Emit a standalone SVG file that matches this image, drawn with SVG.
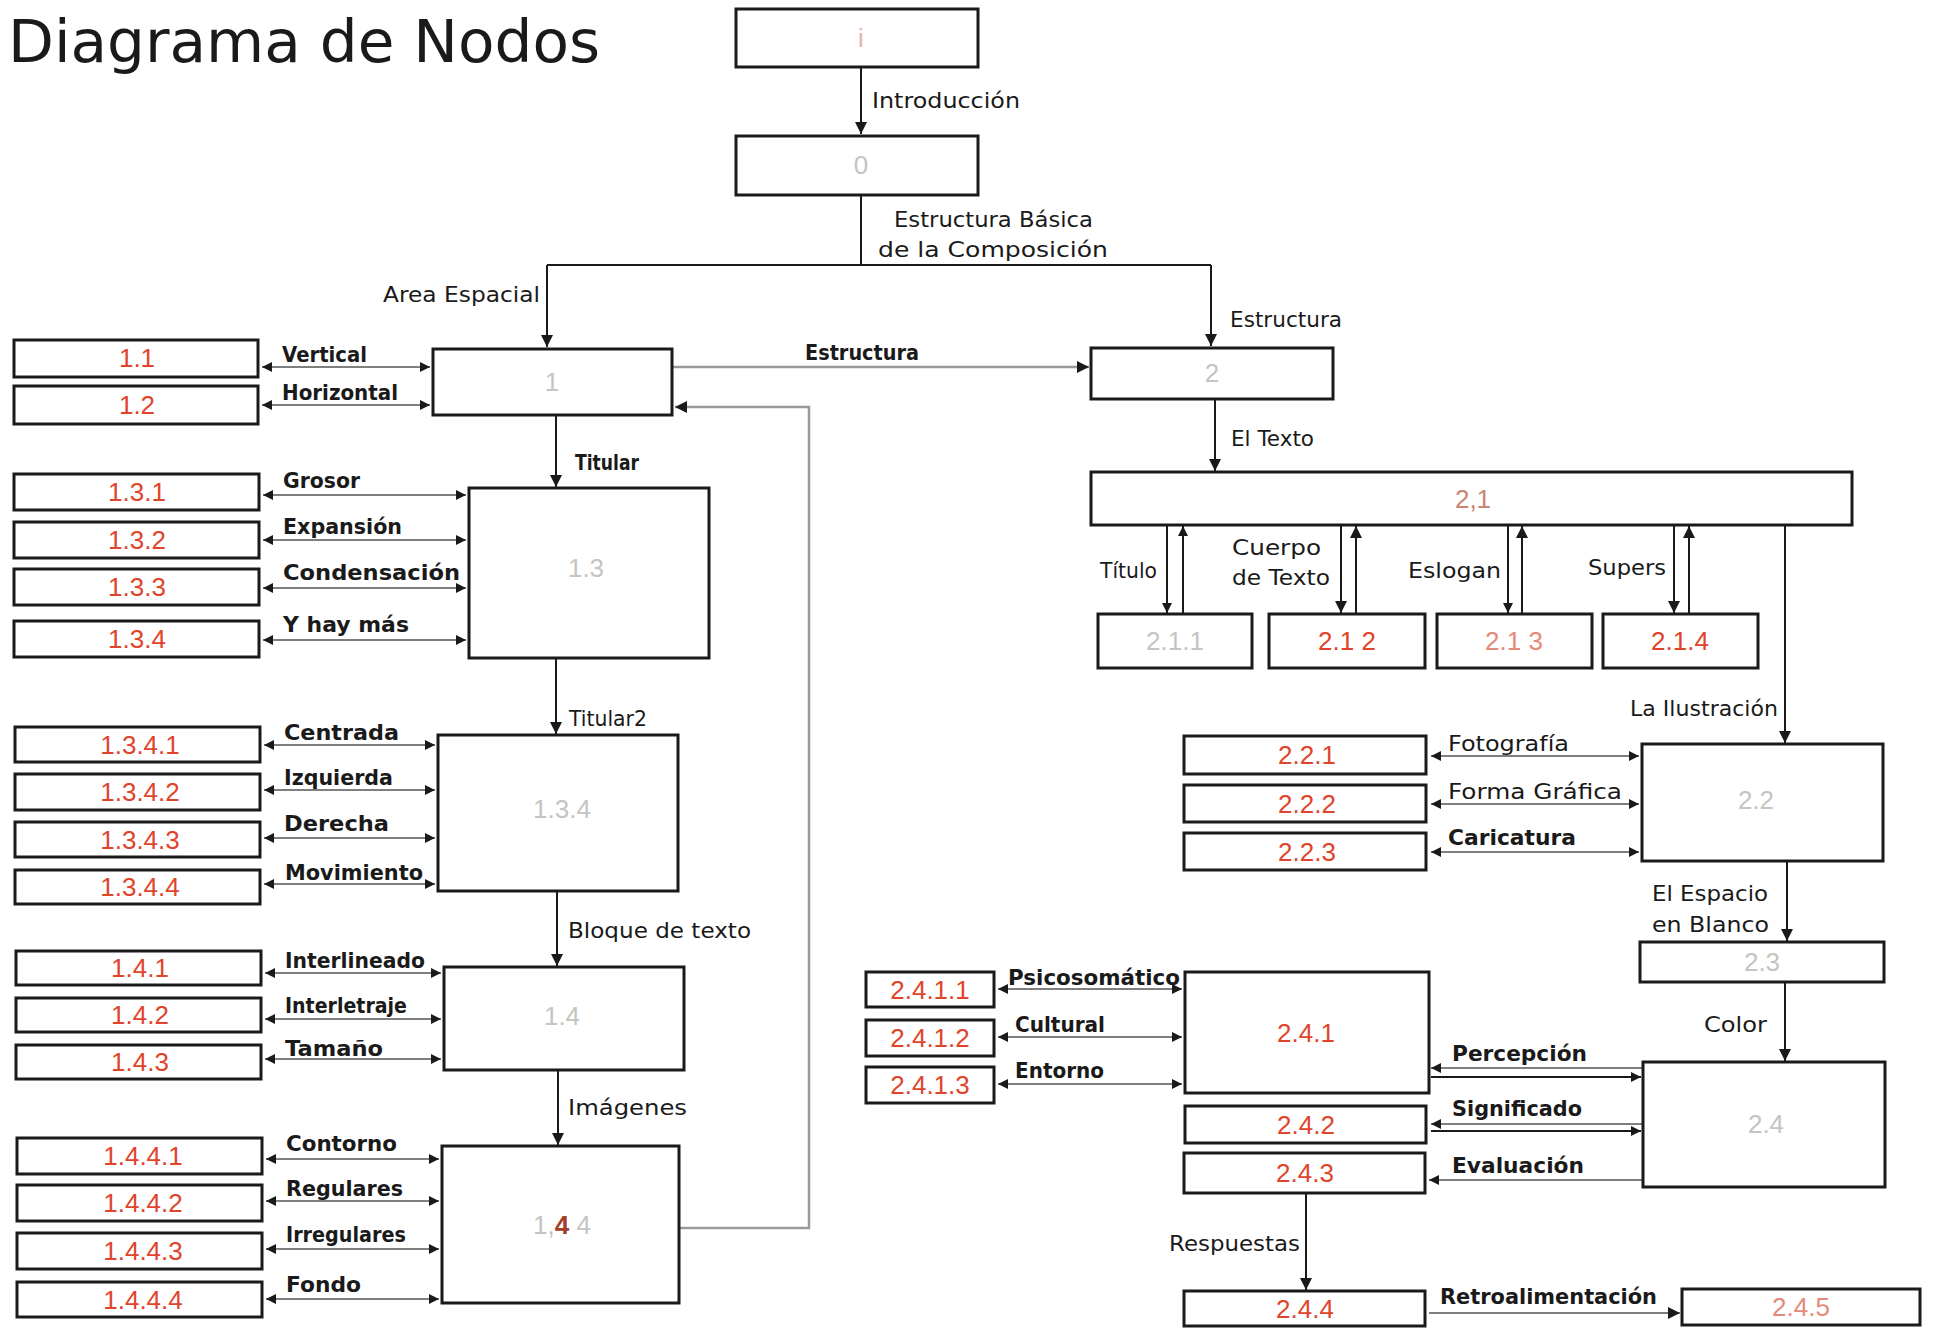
<svg xmlns="http://www.w3.org/2000/svg" width="1936" height="1328" viewBox="0 0 1936 1328">
<defs>
<marker id="ah" viewBox="0 0 10 10" refX="10" refY="5" markerWidth="12" markerHeight="12" markerUnits="userSpaceOnUse" orient="auto-start-reverse">
<path d="M0,0 L10,5 L0,10 z" fill="#1a1a1a"/>
</marker>
<marker id="ahs" viewBox="0 0 10 10" refX="10" refY="5" markerWidth="10" markerHeight="10" markerUnits="userSpaceOnUse" orient="auto-start-reverse">
<path d="M0,0 L10,5 L0,10 z" fill="#1a1a1a"/>
</marker>
</defs>
<style>
.box{fill:#fff;stroke:#1a1a1a;stroke-width:3}
.num{font-family:"Liberation Sans",Arial,sans-serif;font-size:26px;fill:#e0442b;text-anchor:middle;dominant-baseline:central}
.faint{fill:#c4c4c0}
.pale{fill:#e58a78}
.lbl{font-family:"DejaVu Sans","Liberation Sans",sans-serif;font-size:21px;fill:#1a1a1a}
.b{font-weight:bold}
.ln{fill:none;stroke:#1a1a1a;stroke-width:2}
.lg{fill:none;stroke:#555;stroke-width:1.6}
.gr{fill:none;stroke:#9a9a9a;stroke-width:2.5}
.bi{marker-start:url(#ahs);marker-end:url(#ahs)}
.ae{marker-end:url(#ah)}
.as{marker-end:url(#ahs)}
</style>
<rect width="1936" height="1328" fill="#fff"/>
<text x="8" y="62" font-family="DejaVu Sans, Liberation Sans, sans-serif" font-size="58" fill="#1a1a1a" textLength="592" lengthAdjust="spacingAndGlyphs">Diagrama de Nodos</text>

<g id="connectors">
<line class="ln ae" x1="861" y1="67" x2="861" y2="134"/>
<polyline class="ln" points="861,195 861,265"/>
<polyline class="ln" points="547,265 1211,265"/>
<line class="ln ae" x1="547" y1="265" x2="547" y2="347"/>
<line class="ln ae" x1="1211" y1="265" x2="1211" y2="346"/>
<line class="gr ae" x1="672" y1="367" x2="1089" y2="367"/>
<polyline class="gr ae" points="679,1228 809,1228 809,407 675,407"/>
<line class="ln ae" x1="556" y1="415" x2="556" y2="487"/>
<line class="ln ae" x1="556" y1="658" x2="556" y2="734"/>
<line class="ln ae" x1="557" y1="891" x2="557" y2="966"/>
<line class="ln ae" x1="558" y1="1070" x2="558" y2="1145"/>
<line class="lg bi" x1="262" y1="367" x2="430" y2="367"/>
<line class="lg bi" x1="262" y1="405" x2="430" y2="405"/>
<line class="lg bi" x1="263" y1="495" x2="466" y2="495"/>
<line class="lg bi" x1="263" y1="540" x2="466" y2="540"/>
<line class="lg bi" x1="263" y1="588" x2="466" y2="588"/>
<line class="lg bi" x1="263" y1="640" x2="466" y2="640"/>
<line class="lg bi" x1="264" y1="745" x2="435" y2="745"/>
<line class="lg bi" x1="264" y1="790" x2="435" y2="790"/>
<line class="lg bi" x1="264" y1="838" x2="435" y2="838"/>
<line class="lg bi" x1="264" y1="884" x2="435" y2="884"/>
<line class="lg bi" x1="265" y1="973" x2="441" y2="973"/>
<line class="lg bi" x1="265" y1="1019" x2="441" y2="1019"/>
<line class="lg bi" x1="265" y1="1059" x2="441" y2="1059"/>
<line class="lg bi" x1="266" y1="1159" x2="439" y2="1159"/>
<line class="lg bi" x1="266" y1="1201" x2="439" y2="1201"/>
<line class="lg bi" x1="266" y1="1249" x2="439" y2="1249"/>
<line class="lg bi" x1="266" y1="1299" x2="439" y2="1299"/>
<line class="ln ae" x1="1215" y1="399" x2="1215" y2="471"/>
<line class="ln as" x1="1167" y1="525" x2="1167" y2="613"/>
<line class="ln as" x1="1183" y1="613" x2="1183" y2="526"/>
<line class="ln ae" x1="1341" y1="525" x2="1341" y2="613"/>
<line class="ln ae" x1="1356" y1="613" x2="1356" y2="526"/>
<line class="ln as" x1="1508" y1="525" x2="1508" y2="613"/>
<line class="ln ae" x1="1522" y1="613" x2="1522" y2="526"/>
<line class="ln ae" x1="1674" y1="525" x2="1674" y2="613"/>
<line class="ln ae" x1="1689" y1="613" x2="1689" y2="526"/>
<line class="ln ae" x1="1785" y1="525" x2="1785" y2="743"/>
<line class="lg bi" x1="1431" y1="756" x2="1639" y2="756"/>
<line class="lg bi" x1="1431" y1="804" x2="1639" y2="804"/>
<line class="lg bi" x1="1431" y1="852" x2="1639" y2="852"/>
<line class="ln ae" x1="1787" y1="861" x2="1787" y2="941"/>
<line class="ln ae" x1="1785" y1="982" x2="1785" y2="1061"/>
<line class="lg bi" x1="998" y1="989" x2="1182" y2="989"/>
<line class="lg bi" x1="998" y1="1037" x2="1182" y2="1037"/>
<line class="lg bi" x1="998" y1="1084" x2="1182" y2="1084"/>
<line class="lg as" x1="1643" y1="1068" x2="1431" y2="1068"/>
<line class="ln as" x1="1431" y1="1077" x2="1641" y2="1077"/>
<line class="lg as" x1="1643" y1="1124" x2="1431" y2="1124"/>
<line class="ln as" x1="1431" y1="1131" x2="1641" y2="1131"/>
<line class="lg as" x1="1643" y1="1180" x2="1429" y2="1180"/>
<line class="ln ae" x1="1306" y1="1193" x2="1306" y2="1290"/>
<line class="lg ae" x1="1429" y1="1313" x2="1680" y2="1313"/>
</g>

<g id="edge-labels">
<text class="lbl" x="872" y="108" textLength="148" lengthAdjust="spacingAndGlyphs">Introducción</text>
<text class="lbl" x="894" y="227" textLength="199" lengthAdjust="spacingAndGlyphs">Estructura Básica</text>
<text class="lbl" x="878" y="257" textLength="230" lengthAdjust="spacingAndGlyphs">de la Composición</text>
<text class="lbl" x="383" y="302" textLength="157" lengthAdjust="spacingAndGlyphs">Area Espacial</text>
<text class="lbl" x="1230" y="327" textLength="112" lengthAdjust="spacingAndGlyphs">Estructura</text>
<text class="lbl b" x="805" y="360" textLength="114" lengthAdjust="spacingAndGlyphs">Estructura</text>
<text class="lbl b" x="282" y="362" textLength="85" lengthAdjust="spacingAndGlyphs">Vertical</text>
<text class="lbl b" x="282" y="400" textLength="116" lengthAdjust="spacingAndGlyphs">Horizontal</text>
<text class="lbl b" x="575" y="470" textLength="64" lengthAdjust="spacingAndGlyphs">Titular</text>
<text class="lbl b" x="283" y="488" textLength="77" lengthAdjust="spacingAndGlyphs">Grosor</text>
<text class="lbl b" x="283" y="534" textLength="119" lengthAdjust="spacingAndGlyphs">Expansión</text>
<text class="lbl b" x="283" y="580" textLength="177" lengthAdjust="spacingAndGlyphs">Condensación</text>
<text class="lbl b" x="283" y="632" textLength="126" lengthAdjust="spacingAndGlyphs">Y hay más</text>
<text class="lbl" x="569" y="726" textLength="78" lengthAdjust="spacingAndGlyphs">Titular2</text>
<text class="lbl b" x="284" y="740" textLength="115" lengthAdjust="spacingAndGlyphs">Centrada</text>
<text class="lbl b" x="284" y="785" textLength="109" lengthAdjust="spacingAndGlyphs">Izquierda</text>
<text class="lbl b" x="284" y="831" textLength="105" lengthAdjust="spacingAndGlyphs">Derecha</text>
<text class="lbl b" x="285" y="880" textLength="138" lengthAdjust="spacingAndGlyphs">Movimiento</text>
<text class="lbl" x="568" y="938" textLength="183" lengthAdjust="spacingAndGlyphs">Bloque de texto</text>
<text class="lbl b" x="285" y="968" textLength="140" lengthAdjust="spacingAndGlyphs">Interlineado</text>
<text class="lbl b" x="285" y="1013" textLength="122" lengthAdjust="spacingAndGlyphs">Interletraje</text>
<text class="lbl b" x="285" y="1056" textLength="98" lengthAdjust="spacingAndGlyphs">Tamaño</text>
<text class="lbl" x="568" y="1115" textLength="119" lengthAdjust="spacingAndGlyphs">Imágenes</text>
<text class="lbl b" x="286" y="1151" textLength="111" lengthAdjust="spacingAndGlyphs">Contorno</text>
<text class="lbl b" x="286" y="1196" textLength="117" lengthAdjust="spacingAndGlyphs">Regulares</text>
<text class="lbl b" x="286" y="1242" textLength="120" lengthAdjust="spacingAndGlyphs">Irregulares</text>
<text class="lbl b" x="286" y="1292" textLength="75" lengthAdjust="spacingAndGlyphs">Fondo</text>
<text class="lbl" x="1231" y="446" textLength="83" lengthAdjust="spacingAndGlyphs">El Texto</text>
<text class="lbl" x="1100" y="578" textLength="57" lengthAdjust="spacingAndGlyphs">Título</text>
<text class="lbl" x="1232" y="555" textLength="89" lengthAdjust="spacingAndGlyphs">Cuerpo</text>
<text class="lbl" x="1232" y="585" textLength="98" lengthAdjust="spacingAndGlyphs">de Texto</text>
<text class="lbl" x="1408" y="578" textLength="93" lengthAdjust="spacingAndGlyphs">Eslogan</text>
<text class="lbl" x="1588" y="575" textLength="78" lengthAdjust="spacingAndGlyphs">Supers</text>
<text class="lbl" x="1630" y="716" textLength="148" lengthAdjust="spacingAndGlyphs">La Ilustración</text>
<text class="lbl" x="1448" y="751" textLength="121" lengthAdjust="spacingAndGlyphs">Fotografía</text>
<text class="lbl" x="1448" y="799" textLength="174" lengthAdjust="spacingAndGlyphs">Forma Gráfica</text>
<text class="lbl b" x="1448" y="845" textLength="128" lengthAdjust="spacingAndGlyphs">Caricatura</text>
<text class="lbl" x="1652" y="901" textLength="116" lengthAdjust="spacingAndGlyphs">El Espacio</text>
<text class="lbl" x="1652" y="932" textLength="117" lengthAdjust="spacingAndGlyphs">en Blanco</text>
<text class="lbl" x="1704" y="1032" textLength="63" lengthAdjust="spacingAndGlyphs">Color</text>
<text class="lbl b" x="1008" y="985" textLength="172" lengthAdjust="spacingAndGlyphs">Psicosomático</text>
<text class="lbl b" x="1015" y="1032" textLength="90" lengthAdjust="spacingAndGlyphs">Cultural</text>
<text class="lbl b" x="1015" y="1078" textLength="89" lengthAdjust="spacingAndGlyphs">Entorno</text>
<text class="lbl b" x="1452" y="1061" textLength="135" lengthAdjust="spacingAndGlyphs">Percepción</text>
<text class="lbl b" x="1452" y="1116" textLength="130" lengthAdjust="spacingAndGlyphs">Significado</text>
<text class="lbl b" x="1452" y="1173" textLength="132" lengthAdjust="spacingAndGlyphs">Evaluación</text>
<text class="lbl" x="1169" y="1251" textLength="131" lengthAdjust="spacingAndGlyphs">Respuestas</text>
<text class="lbl b" x="1440" y="1304" textLength="217" lengthAdjust="spacingAndGlyphs">Retroalimentación</text>
</g>

<g id="node-i"><rect class="box" x="736" y="9" width="242" height="58"/><text class="num" x="861" y="38" style="fill:#e2b4a8">i</text></g>
<g id="node-0"><rect class="box" x="736" y="136" width="242" height="59"/><text class="num faint" x="861" y="165">0</text></g>
<g id="node-1"><rect class="box" x="433" y="349" width="239" height="66"/><text class="num faint" x="552" y="382">1</text></g>
<g id="node-2"><rect class="box" x="1091" y="348" width="242" height="51"/><text class="num faint" x="1212" y="373">2</text></g>
<g id="node-1-1"><rect class="box" x="14" y="340" width="244" height="37"/><text class="num" x="137" y="358">1.1</text></g>
<g id="node-1-2"><rect class="box" x="14" y="386" width="244" height="38"/><text class="num" x="137" y="405">1.2</text></g>
<g id="node-1-3"><rect class="box" x="469" y="488" width="240" height="170"/><text class="num faint" x="586" y="568">1.3</text></g>
<g id="node-1-3-1"><rect class="box" x="14" y="474" width="245" height="36"/><text class="num" x="137" y="492">1.3.1</text></g>
<g id="node-1-3-2"><rect class="box" x="14" y="522" width="245" height="36"/><text class="num" x="137" y="540">1.3.2</text></g>
<g id="node-1-3-3"><rect class="box" x="14" y="569" width="245" height="36"/><text class="num" x="137" y="587">1.3.3</text></g>
<g id="node-1-3-4"><rect class="box" x="14" y="621" width="245" height="36"/><text class="num" x="137" y="639">1.3.4</text></g>
<g id="node-1-3-4m"><rect class="box" x="438" y="735" width="240" height="156"/><text class="num faint" x="562" y="809">1.3.4</text></g>
<g id="node-1-3-4-1"><rect class="box" x="15" y="727" width="245" height="35"/><text class="num" x="140" y="745">1.3.4.1</text></g>
<g id="node-1-3-4-2"><rect class="box" x="15" y="774" width="245" height="36"/><text class="num" x="140" y="792">1.3.4.2</text></g>
<g id="node-1-3-4-3"><rect class="box" x="15" y="822" width="245" height="35"/><text class="num" x="140" y="840">1.3.4.3</text></g>
<g id="node-1-3-4-4"><rect class="box" x="15" y="870" width="245" height="34"/><text class="num" x="140" y="887">1.3.4.4</text></g>
<g id="node-1-4"><rect class="box" x="444" y="967" width="240" height="103"/><text class="num faint" x="562" y="1016">1.4</text></g>
<g id="node-1-4-1"><rect class="box" x="16" y="951" width="245" height="34"/><text class="num" x="140" y="968">1.4.1</text></g>
<g id="node-1-4-2"><rect class="box" x="16" y="998" width="245" height="34"/><text class="num" x="140" y="1015">1.4.2</text></g>
<g id="node-1-4-3"><rect class="box" x="16" y="1045" width="245" height="34"/><text class="num" x="140" y="1062">1.4.3</text></g>
<g id="node-1-4-4"><rect class="box" x="442" y="1146" width="237" height="157"/><text class="num" x="562" y="1225"><tspan fill="#c4c4c0">1,</tspan><tspan fill="#a0402a" font-weight="bold">4</tspan><tspan fill="#c4c4c0"> 4</tspan></text></g>
<g id="node-1-4-4-1"><rect class="box" x="17" y="1138" width="245" height="36"/><text class="num" x="143" y="1156">1.4.4.1</text></g>
<g id="node-1-4-4-2"><rect class="box" x="17" y="1185" width="245" height="36"/><text class="num" x="143" y="1203">1.4.4.2</text></g>
<g id="node-1-4-4-3"><rect class="box" x="17" y="1233" width="245" height="36"/><text class="num" x="143" y="1251">1.4.4.3</text></g>
<g id="node-1-4-4-4"><rect class="box" x="17" y="1282" width="245" height="35"/><text class="num" x="143" y="1300">1.4.4.4</text></g>
<g id="node-2-1"><rect class="box" x="1091" y="472" width="761" height="53"/><text class="num" x="1473" y="499" style="fill:#c98476">2,1</text></g>
<g id="node-2-1-1"><rect class="box" x="1098" y="614" width="154" height="54"/><text class="num faint" x="1175" y="641">2.1.1</text></g>
<g id="node-2-1-2"><rect class="box" x="1269" y="614" width="156" height="54"/><text class="num" x="1347" y="641">2.1 2</text></g>
<g id="node-2-1-3"><rect class="box" x="1437" y="614" width="155" height="54"/><text class="num pale" x="1514" y="641">2.1 3</text></g>
<g id="node-2-1-4"><rect class="box" x="1603" y="614" width="155" height="54"/><text class="num" x="1680" y="641">2.1.4</text></g>
<g id="node-2-2"><rect class="box" x="1642" y="744" width="241" height="117"/><text class="num faint" x="1756" y="800">2.2</text></g>
<g id="node-2-2-1"><rect class="box" x="1184" y="736" width="242" height="38"/><text class="num" x="1307" y="755">2.2.1</text></g>
<g id="node-2-2-2"><rect class="box" x="1184" y="785" width="242" height="37"/><text class="num" x="1307" y="804">2.2.2</text></g>
<g id="node-2-2-3"><rect class="box" x="1184" y="833" width="242" height="37"/><text class="num" x="1307" y="852">2.2.3</text></g>
<g id="node-2-3"><rect class="box" x="1640" y="942" width="244" height="40"/><text class="num faint" x="1762" y="962">2.3</text></g>
<g id="node-2-4"><rect class="box" x="1643" y="1062" width="242" height="125"/><text class="num faint" x="1766" y="1124">2.4</text></g>
<g id="node-2-4-1"><rect class="box" x="1185" y="972" width="244" height="121"/><text class="num" x="1306" y="1033">2.4.1</text></g>
<g id="node-2-4-2"><rect class="box" x="1185" y="1106" width="241" height="37"/><text class="num" x="1306" y="1125">2.4.2</text></g>
<g id="node-2-4-3"><rect class="box" x="1184" y="1153" width="241" height="40"/><text class="num" x="1305" y="1173">2.4.3</text></g>
<g id="node-2-4-1-1"><rect class="box" x="866" y="972" width="128" height="35"/><text class="num" x="930" y="990">2.4.1.1</text></g>
<g id="node-2-4-1-2"><rect class="box" x="866" y="1020" width="128" height="36"/><text class="num" x="930" y="1038">2.4.1.2</text></g>
<g id="node-2-4-1-3"><rect class="box" x="866" y="1067" width="128" height="36"/><text class="num" x="930" y="1085">2.4.1.3</text></g>
<g id="node-2-4-4"><rect class="box" x="1184" y="1291" width="241" height="35"/><text class="num" x="1305" y="1309">2.4.4</text></g>
<g id="node-2-4-5"><rect class="box" x="1682" y="1289" width="238" height="36"/><text class="num pale" x="1801" y="1307">2.4.5</text></g>
</svg>
